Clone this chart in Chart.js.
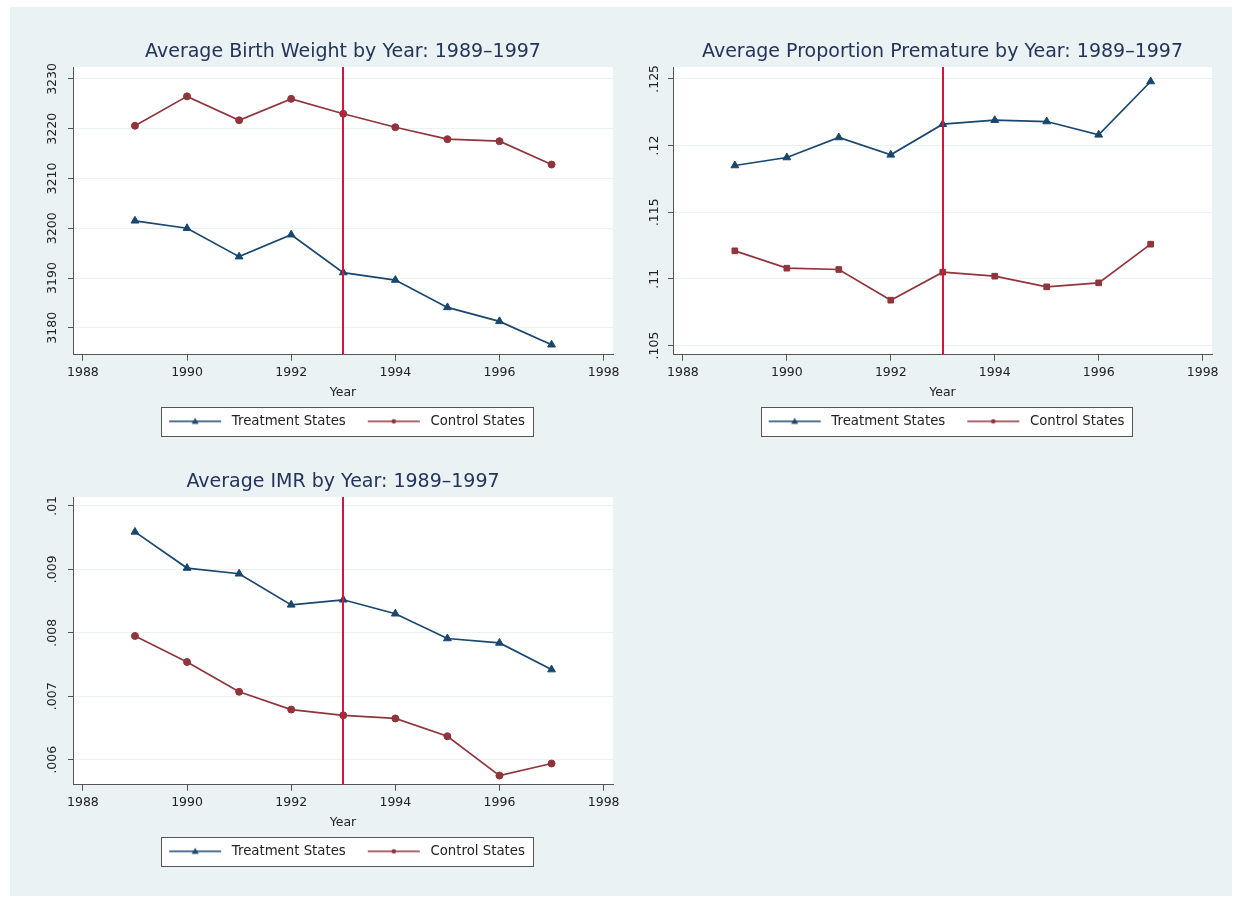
<!DOCTYPE html>
<html>
<head>
<meta charset="utf-8">
<script src="https://cdn.jsdelivr.net/npm/chart.js@4"></script>
<style>
html, body { margin: 0; padding: 0; background: #fff; width: 1242px; height: 897px; overflow: hidden; }
#panel { position: absolute; left: 10px; top: 7px; width: 1222px; height: 889px; background: #eaf2f3; }
.box { position: absolute; }
</style>
</head>
<body>
<div id="panel"></div>
<div class="box" style="left:0px;top:10px;width:686px;height:428px"><canvas id="bw-chart"></canvas></div>
<div class="box" style="left:600px;top:10px;width:685px;height:428px"><canvas id="prem-chart"></canvas></div>
<div class="box" style="left:0px;top:440px;width:686px;height:428px"><canvas id="imr-chart"></canvas></div>
<script>
const years = [1989, 1990, 1991, 1992, 1993, 1994, 1995, 1996, 1997];
const yearTicks = [1988, 1990, 1992, 1994, 1996, 1998];
const policyYear = 1993;

const bwTreatment = [3201.5, 3200.0, 3194.3, 3198.7, 3191.1, 3189.6, 3184.1, 3181.3, 3176.6];
const bwControl = [3220.6, 3226.5, 3221.7, 3226.0, 3223.0, 3220.3, 3217.9, 3217.5, 3212.8];
const bwTicks = [3180, 3190, 3200, 3210, 3220, 3230];

const premTreatment = [0.1185, 0.1191, 0.1206, 0.1193, 0.1216, 0.1219, 0.1218, 0.1208, 0.1248];
const premControl = [0.1121, 0.1108, 0.1107, 0.1084, 0.1105, 0.1102, 0.1094, 0.1097, 0.1126];
const premTicks = [0.105, 0.11, 0.115, 0.12, 0.125];

const imrTreatment = [0.00959, 0.00902, 0.00893, 0.00844, 0.00852, 0.0083, 0.00791, 0.00784, 0.00742];
const imrControl = [0.00795, 0.00754, 0.00707, 0.00679, 0.0067, 0.00665, 0.00637, 0.00575, 0.00594];
const imrTicks = [0.006, 0.007, 0.008, 0.009, 0.01];

const navy = '#1a476f';
const maroon = '#90353b';
const axisGray = '#555';

Chart.defaults.font.family = "'DejaVu Sans', sans-serif";
Chart.defaults.color = '#222';

function legendIcon(color, style) {
    const c = document.createElement('canvas');
    c.width = 64; c.height = 10;
    const g = c.getContext('2d');
    g.strokeStyle = color;
    g.lineWidth = 1.3;
    g.beginPath(); g.moveTo(8, 5); g.lineTo(60, 5); g.stroke();
    g.fillStyle = color;
    g.beginPath();
    if (style === 'triangle') {
        g.moveTo(34, 1.5); g.lineTo(37.5, 7.5); g.lineTo(30.5, 7.5); g.closePath();
    } else {
        g.arc(34, 5, 2.3, 0, Math.PI * 2);
    }
    g.fill();
    return c;
}

// white plot region + boxed legend like stata
const framePlugin = {
    id: 'frame',
    beforeDraw(chart) {
        const {ctx, chartArea: a, legend} = chart;
        ctx.save();
        ctx.fillStyle = '#fff';
        ctx.fillRect(a.left, a.top, a.right - a.left, a.bottom - a.top);
        const hb = legend && legend.legendHitBoxes;
        if (hb && hb.length) {
            const last = hb[hb.length - 1];
            const l = Math.round(hb[0].left) + 0.5;
            const r = Math.round(last.left + last.width + 8) + 0.5;
            const t = Math.round(hb[0].top - 8) + 0.5;
            const b = Math.round(hb[0].top + hb[0].height + 8) + 0.5;
            ctx.fillRect(l, t, r - l, b - t);
            ctx.strokeStyle = axisGray;
            ctx.lineWidth = 1;
            ctx.strokeRect(l, t, r - l, b - t);
        }
        ctx.restore();
    }
};

const eventLinePlugin = {
    id: 'eventLine',
    afterDatasetsDraw(chart) {
        const {ctx, chartArea: a, scales} = chart;
        const x = Math.round(scales.x.getPixelForValue(policyYear));
        ctx.save();
        ctx.strokeStyle = '#d3163d';
        ctx.lineWidth = 2;
        ctx.beginPath();
        ctx.moveTo(x, a.top);
        ctx.lineTo(x, a.bottom);
        ctx.stroke();
        ctx.restore();
    }
};

function series(label, vals, color, style, radius) {
    return {
        label: label,
        data: years.map((yr, i) => ({x: yr, y: vals[i]})),
        borderColor: color,
        backgroundColor: color,
        borderWidth: 1.7,
        pointStyle: style,
        pointRadius: radius,
        pointBorderWidth: 1,
        legendIcon: legendIcon(color, style === 'triangle' ? 'triangle' : 'dot')
    };
}

function renderChart(id, title, datasets, yMin, yMax, yTicks, yPad) {
    const ctx = document.getElementById(id).getContext('2d');
    return new Chart(ctx, {
        type: 'line',
        data: { datasets: datasets },
        plugins: [framePlugin, eventLinePlugin],
        options: {
            responsive: true,
            maintainAspectRatio: false,
            animation: false,
            layout: { padding: 0 },
            plugins: {
                title: {
                    display: true,
                    text: title,
                    color: '#22345c',
                    font: { size: 19, weight: 'normal' },
                    padding: { top: 30.6, bottom: 3.6 }
                },
                legend: {
                    position: 'bottom',
                    labels: {
                        usePointStyle: true,
                        pointStyleWidth: 64,
                        padding: 14,
                        color: '#222',
                        font: { size: 13.3 },
                        generateLabels: chart => chart.data.datasets.map((d, i) => ({
                            text: d.label,
                            pointStyle: d.legendIcon,
                            fillStyle: d.borderColor,
                            strokeStyle: d.borderColor,
                            lineWidth: 0,
                            fontColor: '#222',
                            hidden: false,
                            datasetIndex: i
                        }))
                    }
                },
                tooltip: { enabled: false }
            },
            scales: {
                x: {
                    type: 'linear',
                    min: 1987.81,
                    max: 1998.18,
                    afterBuildTicks: s => { s.ticks = yearTicks.map(v => ({value: v})); },
                    border: { color: axisGray },
                    grid: { drawOnChartArea: false, tickColor: axisGray, tickLength: 6 },
                    ticks: { color: '#222', padding: 5, maxRotation: 0, font: { size: 12.5 }, callback: v => String(v) },
                    title: { display: true, text: 'Year', color: '#222', font: { size: 12.5 }, padding: 0 }
                },
                y: {
                    type: 'linear',
                    position: 'left',
                    min: yMin,
                    max: yMax,
                    afterBuildTicks: s => { s.ticks = yTicks.map(v => ({value: v})); },
                    afterFit: s => { s.width = 73; },
                    border: { color: axisGray },
                    grid: { color: '#eaf2f3', tickColor: axisGray, tickLength: 5 },
                    ticks: {
                        minRotation: 90, maxRotation: 90, crossAlign: 'center',
                        padding: yPad, color: '#222', font: { size: 12.5 },
                        callback: v => String(v).replace(/^0\./, '.')
                    }
                },
                // spacer so the title and legend centre over the plot
                pad: {
                    type: 'linear',
                    position: 'right',
                    afterFit: s => { s.width = 73; },
                    border: { display: false },
                    grid: { display: false },
                    ticks: { display: false }
                }
            }
        }
    });
}

renderChart('bw-chart', 'Average Birth Weight by Year: 1989–1997', [
    series('Treatment States', bwTreatment, navy, 'triangle', 4.5),
    series('Control States', bwControl, maroon, 'circle', 3.5)
], 3174.6, 3232.4, bwTicks, -1);

renderChart('prem-chart', 'Average Proportion Premature by Year: 1989–1997', [
    series('Treatment States', premTreatment, navy, 'triangle', 4.5),
    series('Control States', premControl, maroon, 'rect', 4)
], 0.10431, 0.12589, premTicks, -1);

renderChart('imr-chart', 'Average IMR by Year: 1989–1997', [
    series('Treatment States', imrTreatment, navy, 'triangle', 4.5),
    series('Control States', imrControl, maroon, 'circle', 3.5)
], 0.005606, 0.01014, imrTicks, 1);
</script>
</body>
</html>
